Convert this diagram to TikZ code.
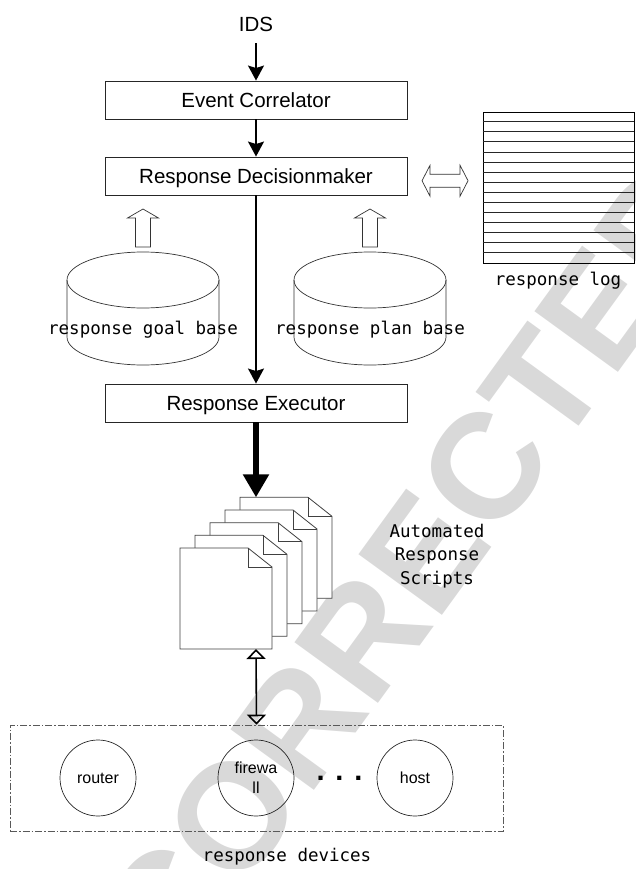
\documentclass[tikz,border=0pt]{standalone}
\usepackage{fontspec}
\setmainfont{Liberation Sans}
\newfontfamily\monofont{DejaVu Sans Mono}
\usetikzlibrary{arrows.meta,calc}

\begin{document}
\begin{tikzpicture}[x=1pt,y=-1pt,
  procbox/.style={draw=black!85, line width=0.9pt, minimum width=302pt,
    minimum height=38pt, inner sep=0pt, text height=14.5pt, text depth=0pt,
    font=\fontsize{20.5}{24}\selectfont},
  flow/.style={line width=1.6pt, -{Stealth[length=15pt,width=16pt,inset=2.5pt]}},
  bigflow/.style={line width=5.5pt, -{Triangle[length=23pt,width=25pt]}},
  twoway/.style={line width=1.6pt,
    {Triangle[open,length=10pt,width=19pt]}-{Triangle[open,length=10pt,width=19pt]}},
  monolabel/.style={font=\monofont\fontsize{17.5}{24}\selectfont, inner sep=0pt},
  device/.style={circle, draw=black!85, line width=0.7pt, minimum size=76pt,
    inner sep=0pt, font=\fontsize{16}{20}\selectfont, align=center},
  dbline/.style={draw=black!80, line width=0.7pt},
  pagestyle/.style={draw=black!75, fill=white, line width=0.8pt},
  blockarrow/.style={draw=black!80, line width=0.7pt, fill=white},
  hollowup/.pic={\path[blockarrow] (-7.5,0) -- (-7.5,-29) -- (-15.5,-29) -- (0,-38)
      -- (15.5,-29) -- (7.5,-29) -- (7.5,0) -- cycle;},
  hollowboth/.pic={\path[blockarrow] (-23,0) -- (-15,-15.5) -- (-15,-6.5) -- (15,-6.5)
      -- (15,-15.5) -- (23,0) -- (15,15.5) -- (15,6.5) -- (-15,6.5) -- (-15,15.5) -- cycle;}
]
\useasboundingbox (0,0) rectangle (635,869);

% proof watermark in the background
\node[rotate=54, text=black!15, inner sep=0pt,
  font=\bfseries\fontsize{150}{150}\selectfont] (stamp) at (414,566) {CORRECTED};

% processing chain
\node[inner sep=0pt, text depth=0pt, font=\fontsize{20.5}{24}\selectfont,
  anchor=base] (ids) at (256,32) {IDS};
\node[procbox] (ec) at (256,100) {Event Correlator};
\node[procbox] (dm) at (256,176) {Response Decisionmaker};
\node[procbox] (ex) at (256,403) {Response Executor};

\draw[flow] ([yshift=-11pt]ids.south) -- (ec.north);
\draw[flow] (ec.south) -- (dm.north);
\draw[flow] (dm.south) -- (ex.north);

% response log table
\node[draw=black, line width=0.8pt, minimum width=151pt, minimum height=151pt,
  inner sep=0pt] (log) at (558.5,187.5) {};
\foreach \k in {1,...,14}
  \draw[black!85, line width=0.7pt] ([yshift=-\k*10.07pt]log.north west)
    -- ([yshift=-\k*10.07pt]log.north east);
\node[monolabel, anchor=base] (loglabel) at (558,285) {response log};
\coordinate (link) at ($(dm.east)!0.5!(log.west)$);
\pic at ([yshift=1pt]link) {hollowboth};

% knowledge bases
\foreach \cx/\nm in {143/gb, 370/pb} {
  \coordinate (\nm) at (\cx,280);
  \draw[dbline] (\cx-76,280) -- (\cx-76,337)
    arc[start angle=180, end angle=360, x radius=76, y radius=-28]
    -- (\cx+76,280);
  \draw[dbline] (\nm) ellipse[x radius=76, y radius=28];
  \pic at ([yshift=5pt]\cx,252) {hollowup};
}
\node[monolabel, anchor=base] (gblabel) at (143,334) {response goal base};
\node[monolabel, anchor=base] (pblabel) at (370,334) {response plan base};

% stack of script pages, back to front
\foreach \i in {4,3,2,1,0} {
  \pgfmathsetmacro{\xa}{180+15*\i}
  \pgfmathsetmacro{\ya}{548-12.67*\i}
  \path[pagestyle] (\xa,\ya) -- (\xa+68,\ya) -- (\xa+92,\ya+19) -- (\xa+92,\ya+101)
    -- (\xa,\ya+101) -- cycle;
  \draw[black!75, line width=0.8pt] (\xa+68,\ya) -- (\xa+68,\ya+19) -- (\xa+92,\ya+19);
}
\coordinate (stacktop) at (256,497.3);
\coordinate (stackbottom) at (256,649);
\draw[bigflow] (ex.south) -- (stacktop);

\node[monolabel, anchor=base] (scriptlabel) at (437,537) {Automated};
\node[monolabel, anchor=base] (scriptlabel2) at (437,560) {Response};
\node[monolabel, anchor=base] (scriptlabel3) at (437,584) {Scripts};

% response devices
\node[draw=black!65, line width=0.7pt, dash pattern=on 7pt off 2pt on 1.5pt off 2pt,
  minimum width=493pt, minimum height=106pt, inner sep=0pt] (devbox) at (256.5,778) {};
\draw[twoway] (stackbottom) -- (devbox.north);

\node[device] (router) at (98,778) {router};
\node[device] (firewall) at (256,778) {firewa\\ll};
\node[device] (host) at (415,778) {host};
\node[inner sep=0pt, anchor=base, font=\bfseries\fontsize{29}{30}\selectfont]
  (more) at (339.5,780) {. . .};
\node[monolabel, anchor=base] (devlabel) at (287,861) {response devices};
\end{tikzpicture}
\end{document}
